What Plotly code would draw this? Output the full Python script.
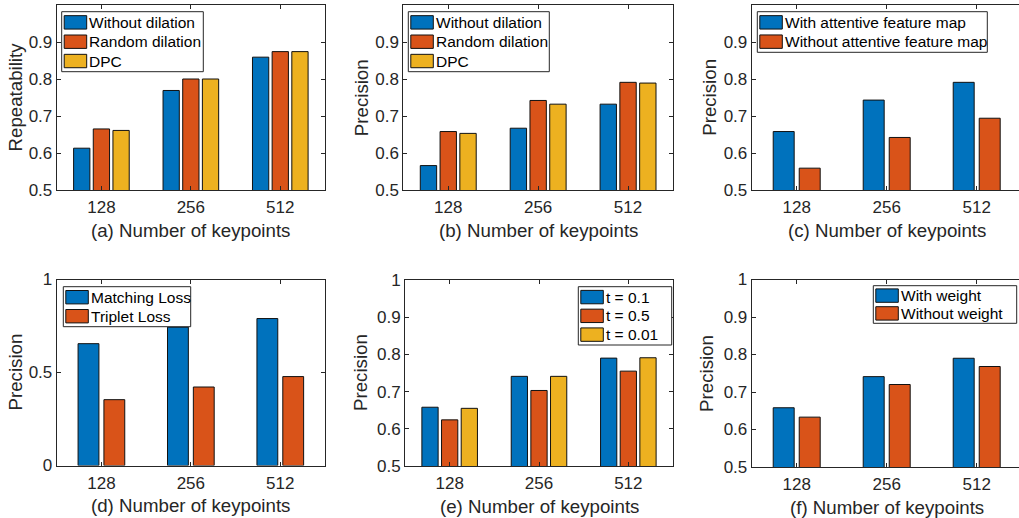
import plotly.graph_objects as go

W, H = 1019, 518
FONT = "Liberation Sans, Arial, Helvetica, sans-serif"
TXT = "#262626"
BLUE, ORANGE, YELLOW = "#0072BD", "#D95319", "#EDB120"

cats = ["128", "256", "512"]

# (a) Repeatability
a_without = [0.613, 0.769, 0.859]
a_random = [0.665, 0.800, 0.874]
a_dpc = [0.661, 0.800, 0.874]
# (b) Precision
b_without = [0.566, 0.667, 0.732]
b_random = [0.658, 0.742, 0.791]
b_dpc = [0.653, 0.732, 0.789]
# (c)
c_with = [0.658, 0.743, 0.791]
c_without = [0.559, 0.642, 0.694]
# (d)
d_matching = [0.655, 0.744, 0.790]
d_triplet = [0.354, 0.422, 0.478]
# (e)
e_t01 = [0.658, 0.741, 0.790]
e_t05 = [0.624, 0.703, 0.755]
e_t001 = [0.655, 0.741, 0.791]
# (f)
f_with = [0.658, 0.741, 0.790]
f_without = [0.633, 0.720, 0.768]

ticks_top = [0.5, 0.6, 0.7, 0.8, 0.9]
ticks_bot = [0.5, 0.6, 0.7, 0.8, 0.9, 1.0]
ticks_d = [0, 0.5, 1]
labels_top = ["0.5", "0.6", "0.7", "0.8", "0.9"]
labels_bot = ["0.5", "0.6", "0.7", "0.8", "0.9", "1"]
labels_d = ["0", "0.5", "1"]


def px_x(p):
    return p / W


def px_y(p):
    return 1 - p / H


panels = [
    dict(series=[("Without dilation", a_without, BLUE), ("Random dilation", a_random, ORANGE), ("DPC", a_dpc, YELLOW)],
         xpx=(56.7, 325), ypx=(5, 190), yrange=[0.5, 1.0], yticks=ticks_top, ytext=labels_top,
         ylab="Repeatability", xlab="(a) Number of keypoints", ylabx=15, leg=(61.7, 11.7, 203.3, 71.7),
         xrange=[-0.5, 2.5], mirror=True),
    dict(series=[("Without dilation", b_without, BLUE), ("Random dilation", b_random, ORANGE), ("DPC", b_dpc, YELLOW)],
         xpx=(403.3, 673), ypx=(5, 190), yrange=[0.5, 1.0], yticks=ticks_top, ytext=labels_top,
         ylab="Precision", xlab="(b) Number of keypoints", ylabx=361.7, leg=(408.3, 11.7, 549.3, 71.7),
         xrange=[-0.5, 2.5], mirror=True),
    dict(series=[("With attentive feature map", c_with, BLUE), ("Without attentive feature map", c_without, ORANGE)],
         xpx=(751.7, 1019), ypx=(5, 190), yrange=[0.5, 1.0], yticks=ticks_top, ytext=labels_top,
         ylab="Precision", xlab="(c) Number of keypoints", ylabx=709.3, leg=(757.3, 11.7, 987.3, 52.3),
         xrange=[-0.5, 2.47], mirror=False),
    dict(series=[("Matching Loss", d_matching, BLUE), ("Triplet Loss", d_triplet, ORANGE)],
         xpx=(56.7, 325), ypx=(279.5, 465.5), yrange=[0, 1.0], yticks=ticks_d, ytext=labels_d,
         ylab="Precision", xlab="(d) Number of keypoints", ylabx=15, leg=(63.3, 286.7, 190.7, 326.7),
         xrange=[-0.5, 2.5], mirror=True),
    dict(series=[("t = 0.1", e_t01, BLUE), ("t = 0.5", e_t05, ORANGE), ("t = 0.01", e_t001, YELLOW)],
         xpx=(405, 673), ypx=(280, 466), yrange=[0.5, 1.0], yticks=ticks_bot, ytext=labels_bot,
         ylab="Precision", xlab="(e) Number of keypoints", ylabx=360, leg=(578.3, 286.7, 671.7, 345),
         xrange=[-0.5, 2.5], mirror=True),
    dict(series=[("With weight", f_with, BLUE), ("Without weight", f_without, ORANGE)],
         xpx=(751.7, 1019), ypx=(279.5, 467), yrange=[0.5, 1.0], yticks=ticks_bot, ytext=labels_bot,
         ylab="Precision", xlab="(f) Number of keypoints", ylabx=706.7, leg=(873.3, 285.7, 1016.7, 323.3),
         xrange=[-0.5, 2.47], mirror=False),
]

fig = go.Figure()
annotations = []
shapes = []
layout = dict(
    width=W, height=H, margin=dict(l=0, r=0, t=0, b=0, autoexpand=False),
    paper_bgcolor="white", plot_bgcolor="white", showlegend=False,
    barmode="overlay", font=dict(family=FONT, color=TXT, size=17),
)

for i, p in enumerate(panels, start=1):
    sfx = "" if i == 1 else str(i)
    xa, ya = "x" + sfx, "y" + sfx
    n = len(p["series"])
    if n == 3:
        width, pitch = 0.182, 0.22
    else:
        width, pitch = 0.233, 0.289
    start = -(pitch * (n - 1) + width) / 2
    for k, (name, vals, col) in enumerate(p["series"]):
        fig.add_trace(go.Bar(
            x=cats, y=vals, name=name, width=width, offset=start + k * pitch,
            marker=dict(color=col, line=dict(color="#111111", width=1)),
            xaxis=xa, yaxis=ya, showlegend=False,
        ))
    x0, x1 = p["xpx"]
    y0, y1 = p["ypx"]
    layout["xaxis" + sfx] = dict(
        type="category", domain=[px_x(x0), px_x(x1)], anchor=ya, range=p["xrange"],
        showline=True, linecolor=TXT, linewidth=1, mirror="ticks", automargin=False,
        ticks="inside", ticklen=4, tickcolor=TXT, showgrid=False, zeroline=False,
        tickfont=dict(size=17, color=TXT, family=FONT), ticklabelstandoff=2, fixedrange=True,
    )
    layout["yaxis" + sfx] = dict(
        domain=[px_y(y1), px_y(y0)], anchor=xa, range=p["yrange"],
        tickvals=p["yticks"], ticktext=p["ytext"], automargin=False,
        showline=True, linecolor=TXT, linewidth=1, mirror="ticks" if p["mirror"] else False,
        ticks="inside", ticklen=4, tickcolor=TXT, showgrid=False, zeroline=False,
        tickfont=dict(size=17, color=TXT, family=FONT), fixedrange=True,
    )
    # legend box (drawn as shapes + text, above the bars)
    L, T, R, B = p["leg"]
    shapes.append(dict(type="rect", xref="paper", yref="paper", layer="above",
                       x0=px_x(L), x1=px_x(R), y0=px_y(B), y1=px_y(T),
                       fillcolor="white", line=dict(color=TXT, width=1)))
    rpitch = (B - T - 2) / n
    for k, (name, vals, col) in enumerate(p["series"]):
        cy = T + 1 + rpitch * (k + 0.5)
        shapes.append(dict(type="rect", xref="paper", yref="paper", layer="above",
                           x0=px_x(L + 2.5), x1=px_x(L + 25), y0=px_y(cy + 6.7), y1=px_y(cy - 6.7),
                           fillcolor=col, line=dict(color="#111111", width=1)))
        annotations.append(dict(text=name, x=px_x(L + 25.5), y=px_y(cy), xref="paper", yref="paper",
                                xanchor="left", yanchor="middle", showarrow=False,
                                font=dict(size=15.5, color="#000000", family=FONT)))
    # axis titles
    annotations.append(dict(
        text=p["xlab"], x=px_x((x0 + x1) / 2 if p["mirror"] else (x0 + 1021.7) / 2),
        y=px_y((y1 + 40)), xref="paper", yref="paper", xanchor="center", yanchor="middle",
        showarrow=False, font=dict(size=18.7, color=TXT, family=FONT),
    ))
    annotations.append(dict(
        text=p["ylab"], x=px_x(p["ylabx"]), y=px_y((y0 + y1) / 2), xref="paper", yref="paper",
        xanchor="center", yanchor="middle", textangle=-90, showarrow=False,
        font=dict(size=18.7, color=TXT, family=FONT),
    ))

layout["annotations"] = annotations
layout["shapes"] = shapes
fig.update_layout(**layout)
fig.write_html(
    "out.html",
    config={"displayModeBar": False},
    post_script="document.body.style.margin='0';document.body.style.overflow='hidden';",
)
